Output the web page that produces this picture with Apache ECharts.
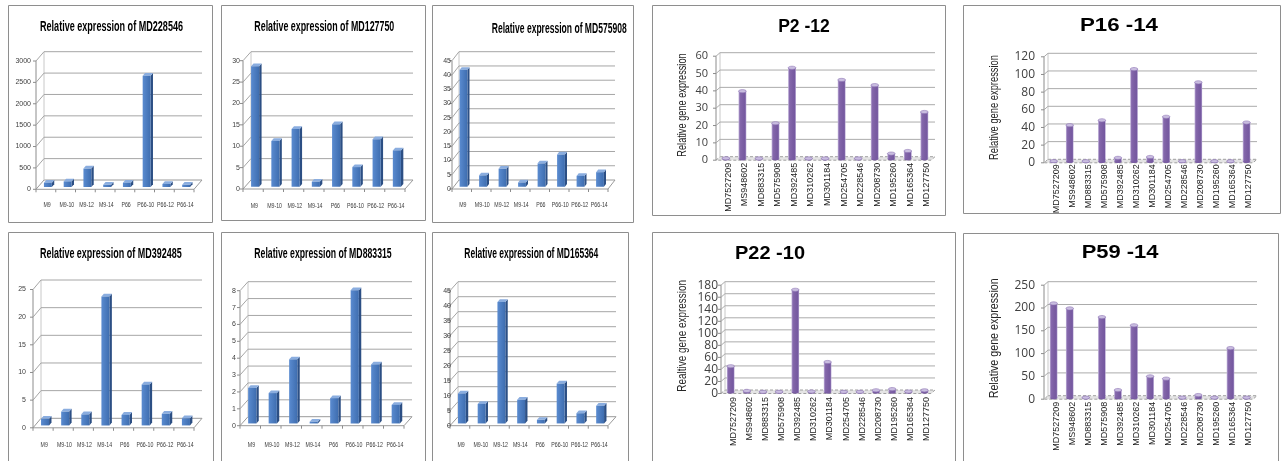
<!DOCTYPE html>
<html><head><meta charset="utf-8">
<script src="https://cdn.jsdelivr.net/npm/echarts@6/dist/echarts.min.js"></script>
<style>html,body{margin:0;padding:0;background:#fff}#c{width:1288px;height:461px}</style>
</head><body><div id="c"></div>
<script>
// ---------------- data ----------------
const treatmentCats = ['M9','M9-10','M9-12','M9-14','P66','P66-10','P66-12','P66-14'];
const md228546 = [100, 130, 430, 50, 100, 2600, 70, 50];
const md127750 = [28.2, 10.7, 13.5, 1.2, 14.6, 4.6, 11.1, 8.5];
const md575908 = [41, 4, 6.3, 1.5, 8.2, 11.3, 3.8, 5.1];
const md392485 = [1.2, 2.5, 2.0, 23.3, 1.9, 7.4, 2.1, 1.3];
const md883315 = [2.1, 1.8, 3.8, 0.1, 1.5, 7.9, 3.5, 1.1];
const md165364 = [10, 6.5, 40.5, 7.9, 1.2, 13.3, 3.4, 5.9];

const geneCats = ['MD7527209','MS948602','MD883315','MD575908','MD392485','MD310262','MD301184','MD254705','MD228546','MD208730','MD195260','MD165364','MD127750'];
const p2_12  = [0.3, 39, 0.2, 20.5, 52.5, 0.2, 0.2, 45.5, 0.2, 42.5, 3, 4.5, 27];
const p16_14 = [0.3, 41, 0.2, 46.5, 4, 104.5, 5, 50.5, 0.2, 89.5, 0.2, 0.2, 44];
const p22_10 = [43, 2, 0.5, 0.5, 170, 1, 50, 0.5, 0.5, 3, 5, 1, 3];
const p59_14 = [207, 196, 0.5, 177, 17, 159, 47, 42, 0.5, 6, 0.5, 109, 0.5];

const axisMax      = [3000, 30, 45, 25, 8, 45, 60, 120, 180, 250];
const axisInterval = [500, 5, 5, 5, 1, 5, 10, 20, 20, 50];

const titles = ['Relative expression of MD228546','Relative expression of MD127750','Relative expression of MD575908',
  'Relative expression of MD392485','Relative expression of MD883315','Relative expression of MD165364',
  'P2 -12','P16 -14','P22 -10','P59 -14'];
const yNames = [null,null,null,null,null,null,'Relative gene expression','Relative gene expression','Realtive gene expression','Relative gene expression'];

// ---------------- layout ----------------
const panels = [
 {cats:treatmentCats, data:md228546, blue:true, grid:[44,51.7,202,180],   D:[-8,9.3], ym:13, xm:25,   tp:[111.5,26.7], tw:143,   border:[8,5,212,222]},
 {cats:treatmentCats, data:md127750, blue:true, grid:[251,51.7,413,180],  D:[-8,9],   ym:11, xm:26,   tp:[324.3,26.7], tw:140,   border:[221,5,425,220]},
 {cats:treatmentCats, data:md575908, blue:true, grid:[459,51.7,615,180],  D:[-7,9],   ym:8,  xm:25,   tp:[559.2,29],   tw:135,   border:[432,5,633,222]},
 {cats:treatmentCats, data:md392485, blue:true, grid:[41,280,202,418.3],  D:[-8,9.5], ym:15, xm:26.7, tp:[110.8,254],  tw:141.7, border:[8,232,213,470]},
 {cats:treatmentCats, data:md883315, blue:true, grid:[248,281.7,412,416.7],D:[-8,9],  ym:12, xm:28.3, tp:[323,254],    tw:137.4, border:[221,232,425,470]},
 {cats:treatmentCats, data:md165364, blue:true, grid:[458,281.7,616,416.7],D:[-8,9],  ym:7,  xm:28.3, tp:[531.3,254],  tw:134,   border:[432,232,628,470]},
 {cats:geneCats, data:p2_12,  blue:false, grid:[720,52.7,935,156.7],  D:[-4,3.5], ym:12, yf:11, xm:6, tp:[804,26.7], tw:51.7, yn:[682.7,105,103.3],  border:[652,5,945,215]},
 {cats:geneCats, data:p16_14, blue:false, grid:[1048,53.3,1257,159.3],D:[-4,3.5], ym:13, yf:12, xm:5, tp:[1119,26],  tw:78,   yn:[995,107.5,105],    border:[963,5,1280,213]},
 {cats:geneCats, data:p22_10, blue:false, grid:[725,281.7,935,390],   D:[-4,3.5], ym:7,  yf:12, xm:7, tp:[770,254],  tw:70,   yn:[682.7,335.8,111.7],border:[652,232,955,470]},
 {cats:geneCats, data:p59_14, blue:false, grid:[1048,281.7,1257,395.7],D:[-4,3.5],ym:13, yf:12, xm:6, tp:[1120,253], tw:76.7, yn:[995,338.3,120],    border:[963,233,1278,470]}
];

const mctx = document.createElement('canvas').getContext('2d');
function fitScale(text, font, w){ mctx.font = font; return w / mctx.measureText(text).width; }

// back wall, side wall gridlines, floor and the value labels on the front edge of the side wall
function frameItem(p){
  const D = p.D, blue = p.blue;
  const gridC = blue ? '#A6A6A6' : '#ABABAB';
  const labFont = blue ? '7px "Liberation Sans"' : p.yf + 'px "Open Sans"';
  return function(params, api){
    const cs = params.coordSys;
    const L = cs.x, R = cs.x + cs.width, T = cs.y, B = cs.y + cs.height;
    const t = api.value(1);
    const y = api.coord([0, t])[1];
    const ch = [];
    if (t === 0) {
      ch.push({type:'polygon', shape:{points:[[L,B],[R,B],[R+D[0],B+D[1]],[L+D[0],B+D[1]]]},
        style: blue ? {fill:'#ffffff', stroke:'#9A9A9A', lineWidth:1} : {fill:'#E4E4E4', stroke:'#A0A0A0', lineWidth:1, lineDash:[3,2]}});
      ch.push({type:'line', shape:{x1:L+D[0], y1:T+D[1], x2:L+D[0], y2:B+D[1]}, style:{stroke:'#8C8C8C', lineWidth:1}});
      ch.push({type:'line', shape:{x1:L, y1:T, x2:L, y2:B}, style:{stroke:'#C8C8C8', lineWidth:1}});
    } else {
      ch.push({type:'polyline', shape:{points:[[L+D[0], y+D[1]],[L,y],[R,y]]}, style:{stroke:gridC, lineWidth:1, fill:null}});
    }
    ch.push({type:'line', shape:{x1:L+D[0]-3, y1:y+D[1], x2:L+D[0], y2:y+D[1]}, style:{stroke:'#8C8C8C', lineWidth:1}});
    ch.push({type:'text', x: L - p.ym, y: y + D[1],
      style:{text: String(t), font: labFont, fill:'#404040', align:'right', verticalAlign:'middle', textAlign:'right', textVerticalAlign:'middle'}});
    return {type:'group', children:ch};
  };
}

const XLAB_FONT = '7.5px "Liberation Sans"';
function blueBar(D, n, cats, xm){
  return function(params, api){
    const cs = params.coordSys;
    const B = cs.y + cs.height;
    const i = api.value(0), v = api.value(1);
    const base = api.coord([i, 0]), top = api.coord([i, v]);
    const cw = api.size([1, 0])[0];
    const w = cw * 0.4, ff = 0.75, fb = 0.45;
    const fx = base[0] - w/2 + D[0]*ff, fdy = D[1]*ff;
    const bx = base[0] - w/2 + D[0]*fb, bdy = D[1]*fb;
    const ft = top[1] + fdy, fbm = base[1] + fdy, bt = top[1] + bdy, bbm = base[1] + bdy;
    const ch = [
      {type:'polygon', shape:{points:[[fx+w,ft],[bx+w,bt],[bx+w,bbm],[fx+w,fbm]]}, style:{fill:'#2C4F84'}},
      {type:'polygon', shape:{points:[[fx,ft],[fx+w,ft],[bx+w,bt],[bx,bt]]}, style:{fill:'#8AADDF'}},
      {type:'rect', shape:{x:fx, y:ft, width:w, height:Math.max(fbm-ft,0)},
        style:{fill:{type:'linear',x:0,y:0,x2:1,y2:0,colorStops:[{offset:0,color:'#5A8BD0'},{offset:1,color:'#3E6DAF'}]}}}
    ];
    const tx = base[0] - cw/2 + D[0];
    ch.push({type:'line', shape:{x1:tx, y1:B+D[1], x2:tx, y2:B+D[1]+3}, style:{stroke:'#8C8C8C', lineWidth:1}});
    if (i === n-1) {
      const tx2 = base[0] + cw/2 + D[0];
      ch.push({type:'line', shape:{x1:tx2, y1:B+D[1], x2:tx2, y2:B+D[1]+3}, style:{stroke:'#8C8C8C', lineWidth:1}});
    }
    // category label (Excel-style compressed text)
    ch.push({type:'text', x: base[0] + D[0]*0.85, y: B + xm, scaleX: 0.7,
      style:{text: cats[i], font: XLAB_FONT, fill:'#3A3A3A', align:'center', verticalAlign:'middle', textAlign:'center', textVerticalAlign:'middle'}});
    return {type:'group', children:ch};
  };
}

function purpleBar(D){
  return function(params, api){
    const i = api.value(0), v = api.value(1);
    const base = api.coord([i, 0]), top = api.coord([i, v]);
    const cw = api.size([1, 0])[0];
    const w = cw * 0.47, f = 0.6;
    const x0 = base[0] - w/2 + D[0]*f, yb = base[1] + D[1]*f, yt = top[1] + D[1]*f;
    const ry = 1.6;
    return {type:'group', children:[
      {type:'ellipse', shape:{cx:x0+w/2, cy:yb, rx:w/2, ry:ry}, style:{fill:'#7A5DA3'}},
      {type:'rect', shape:{x:x0, y:yt, width:w, height:Math.max(yb-yt,0)},
        style:{fill:{type:'linear',x:0,y:0,x2:1,y2:0,colorStops:[
          {offset:0,color:'#C4B7DC'},{offset:0.18,color:'#8568AC'},{offset:0.55,color:'#7B5EA3'},
          {offset:0.85,color:'#7558A0'},{offset:1,color:'#B7A7D3'}]}}},
      {type:'ellipse', shape:{cx:x0+w/2, cy:yt, rx:w/2, ry:ry}, style:{fill:'#C9BDE0', stroke:'#8D74B3', lineWidth:0.6}}
    ]};
  };
}

const grids = [], xAxes = [], yAxes = [], series = [], graphics = [];
panels.forEach((p, k) => {
  const [L, T, R, B] = p.grid;
  grids.push({left:L, top:T, width:R-L, height:B-T});
  xAxes.push({type:'category', gridIndex:k, data:p.cats, boundaryGap:true,
    axisLine:{show:false}, axisTick:{show:false}, splitLine:{show:false},
    axisLabel: p.blue
      ? {show:false}
      : {interval:0, rotate:90, fontSize:9, fontFamily:'"Liberation Sans",sans-serif', color:'#1A1A1A', margin:p.xm, hideOverlap:false}});
  yAxes.push({type:'value', gridIndex:k, min:0, max:axisMax[k], interval:axisInterval[k],
    axisLine:{show:false}, axisTick:{show:false}, splitLine:{show:false}, axisLabel:{show:false}});
  const ticks = [];
  for (let t = 0; t <= axisMax[k] + 1e-9; t += axisInterval[k]) ticks.push([0, t]);
  series.push({type:'custom', xAxisIndex:k, yAxisIndex:k, silent:true, z:1, data:ticks,
    encode:{x:0, y:1}, renderItem: frameItem(p)});
  series.push({type:'custom', xAxisIndex:k, yAxisIndex:k, silent:true, z:2,
    data:p.data.map((v, i) => [i, v]), encode:{x:0, y:1},
    renderItem: p.blue ? blueBar(p.D, p.cats.length, p.cats, p.xm) : purpleBar(p.D)});

  const bd = p.border;
  graphics.push({type:'rect', silent:true, z:0, shape:{x:bd[0]+0.5, y:bd[1]+0.5, width:bd[2]-bd[0], height:bd[3]-bd[1]},
    style:{fill:null, stroke:'#8E8E8E', lineWidth:1}});
  const tf = p.blue ? 'bold 15px "Liberation Sans"' : 'bold 18px "Liberation Sans"';
  graphics.push({type:'text', silent:true, x:p.tp[0], y:p.tp[1], scaleX:fitScale(titles[k], tf, p.tw),
    style:{text:titles[k], font:tf, fill:'#000000', align:'center', verticalAlign:'middle', textAlign:'center', textVerticalAlign:'middle'}});
  if (yNames[k]) {
    const nf = '12px "Liberation Sans"';
    graphics.push({type:'text', silent:true, x:p.yn[0], y:p.yn[1], rotation:Math.PI/2, scaleX:fitScale(yNames[k], nf, p.yn[2]),
      style:{text:yNames[k], font:nf, fill:'#262626', align:'center', verticalAlign:'middle', textAlign:'center', textVerticalAlign:'middle'}});
  }
});

const chart = echarts.init(document.getElementById('c'), null, {renderer:'canvas'});
chart.setOption({
  backgroundColor:'#ffffff',
  animation:false,
  grid:grids, xAxis:xAxes, yAxis:yAxes, series:series,
  graphic:{elements:graphics}
});
</script>
</body></html>
